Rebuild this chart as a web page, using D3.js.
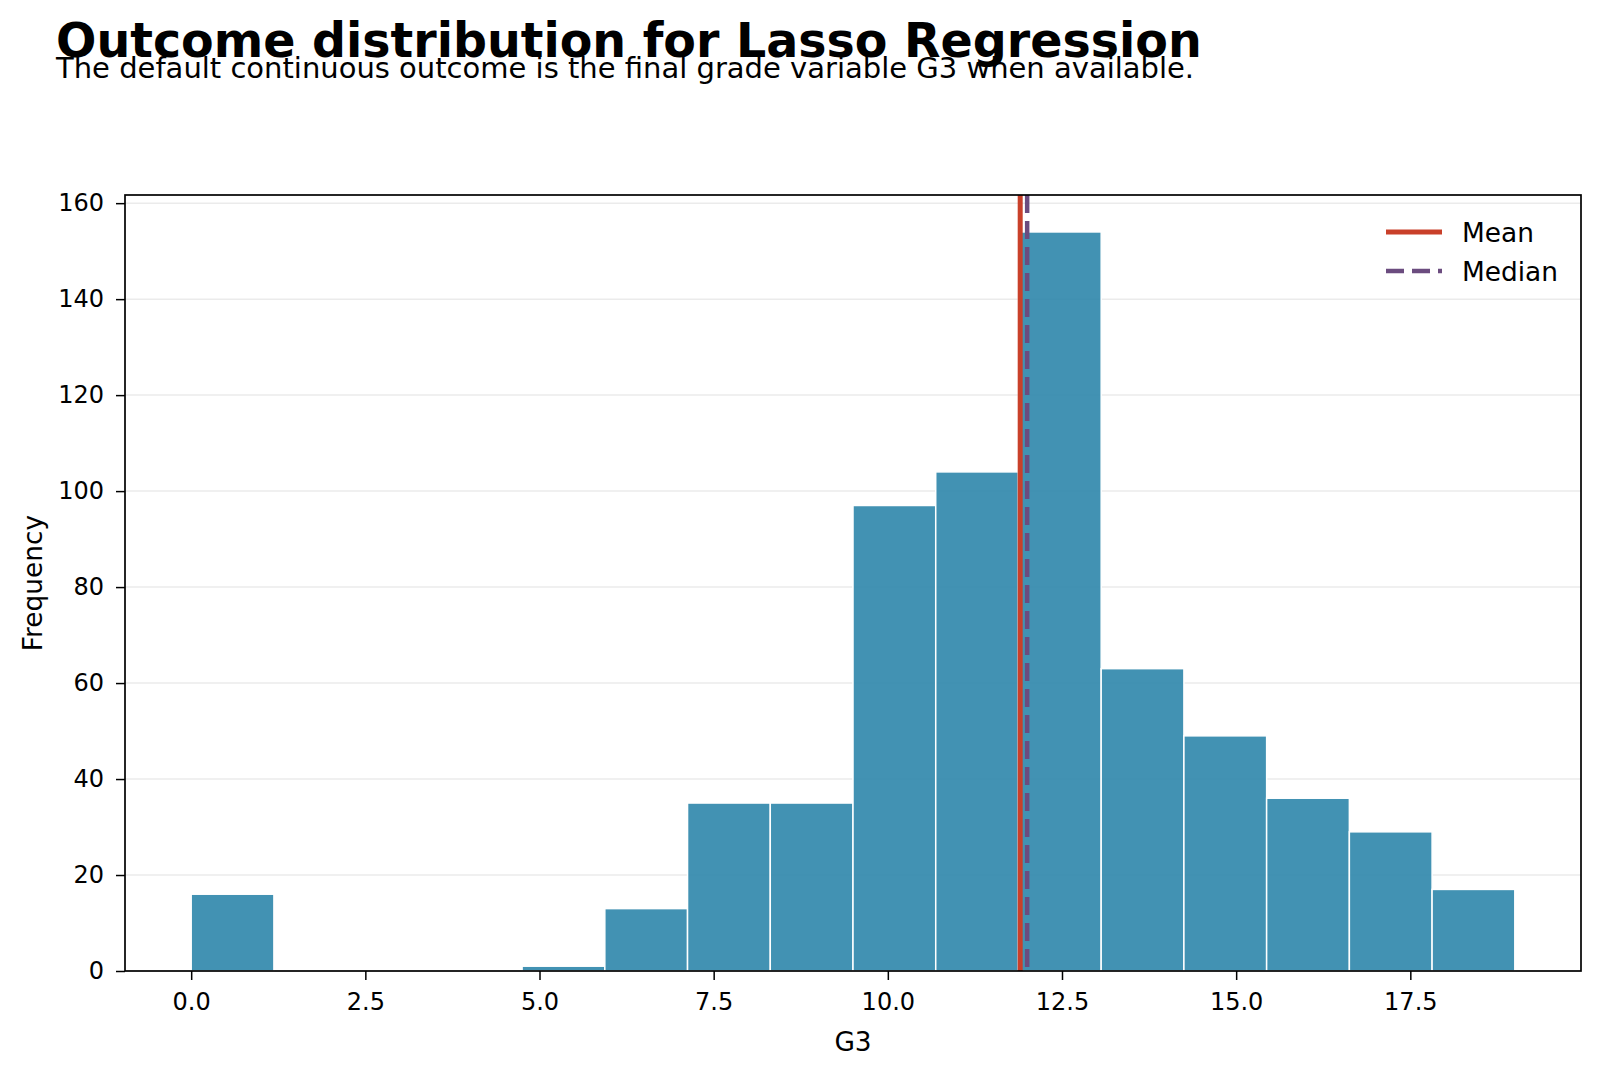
<!DOCTYPE html>
<html>
<head>
<meta charset="utf-8">
<script src="https://cdn.jsdelivr.net/npm/d3@7"></script>
<style>
  body { margin: 0; background: #fff; }
  text { font-family: "DejaVu Sans", sans-serif; fill: #000; }
</style>
</head>
<body>
<script>
var width = 1600;
var height = 1073;

// histogram of G3 (16 bins over 0..19)
var binEdges = [0, 1.1875, 2.375, 3.5625, 4.75, 5.9375, 7.125, 8.3125, 9.5,
    10.6875, 11.875, 13.0625, 14.25, 15.4375, 16.625, 17.8125, 19];
var counts = [16, 0, 0, 0, 1, 13, 35, 35, 97, 104, 154, 63, 49, 36, 29, 17];
var meanValue = 11.9;
var medianValue = 12;
var xTicks = [0, 2.5, 5, 7.5, 10, 12.5, 15, 17.5];
var yTicks = [0, 20, 40, 60, 80, 100, 120, 140, 160];

var bins = counts.map(function(c, i) { return {x0: binEdges[i], x1: binEdges[i + 1], n: c}; });

var margin = {left: 125, right: 19, top: 195, bottom: 102};
var plotW = width - margin.left - margin.right;
var plotH = height - margin.top - margin.bottom;

var svg = d3.select('body')
    .append('svg')
    .attr('width', width)
    .attr('height', height);

var lo = binEdges[0], hi = binEdges[binEdges.length - 1];
var pad = (hi - lo) * 0.05;
var x = d3.scaleLinear().domain([lo - pad, hi + pad]).range([0, plotW]);
var y = d3.scaleLinear().domain([0, d3.max(counts) * 1.05]).range([plotH, 0]);

var g = svg.append('g').attr('transform', 'translate(' + margin.left + ',' + margin.top + ')');

// grid
g.append('g').selectAll('line')
    .data(yTicks)
    .enter().append('line')
    .attr('x1', 0).attr('x2', plotW)
    .attr('y1', d => y(d)).attr('y2', d => y(d))
    .attr('stroke', '#ebebeb')
    .attr('stroke-width', 1.5);

// bars
g.append('g').selectAll('rect')
    .data(bins.filter(d => d.n > 0))
    .enter().append('rect')
    .attr('x', d => x(d.x0))
    .attr('width', d => x(d.x1) - x(d.x0))
    .attr('y', d => y(d.n))
    .attr('height', d => y(0) - y(d.n))
    .attr('fill', '#2e86ab')
    .attr('fill-opacity', 0.9)
    .attr('stroke', '#fff')
    .attr('stroke-width', 1.5);

// mean / median
g.append('line')
    .attr('x1', x(meanValue)).attr('x2', x(meanValue))
    .attr('y1', 0).attr('y2', plotH)
    .attr('stroke', '#c9402a')
    .attr('stroke-width', 5);
g.append('line')
    .attr('x1', x(medianValue)).attr('x2', x(medianValue))
    .attr('y1', 0).attr('y2', plotH)
    .attr('stroke', '#6b4c7f')
    .attr('stroke-width', 4.5)
    .attr('stroke-dasharray', '18,8');

// axes
var xAxis = g.append('g')
    .attr('transform', 'translate(0,' + plotH + ')')
    .call(d3.axisBottom(x).tickValues(xTicks).tickFormat(d3.format('.1f')).tickSize(9).tickPadding(13));
var yAxis = g.append('g')
    .call(d3.axisLeft(y).tickValues(yTicks).tickSize(9).tickPadding(12));
[xAxis, yAxis].forEach(function(a) {
    a.select('.domain').remove();
    a.selectAll('line').attr('stroke', '#000').attr('stroke-width', 1.5);
    a.selectAll('text').style('font-size', '24px').style('font-family', '"DejaVu Sans", sans-serif');
});

// frame
g.append('rect')
    .attr('width', plotW).attr('height', plotH)
    .attr('fill', 'none')
    .attr('stroke', '#000')
    .attr('stroke-width', 1.7);

// axis labels
svg.append('text')
    .attr('x', margin.left + plotW / 2)
    .attr('y', 1051)
    .attr('text-anchor', 'middle')
    .style('font-size', '26.4px')
    .text('G3');
svg.append('text')
    .attr('transform', 'translate(42,' + (margin.top + plotH / 2) + ') rotate(-90)')
    .attr('text-anchor', 'middle')
    .style('font-size', '26.4px')
    .text('Frequency');

// legend
var legend = [{label: 'Mean', color: '#c9402a', dash: null, w: 5},
    {label: 'Median', color: '#6b4c7f', dash: '18,8', w: 4.5}];
var lg = svg.append('g').attr('transform', 'translate(1386,232)');
legend.forEach(function(d, i) {
    lg.append('line')
        .attr('x1', 0).attr('x2', 56)
        .attr('y1', i * 39).attr('y2', i * 39)
        .attr('stroke', d.color)
        .attr('stroke-width', d.w)
        .attr('stroke-dasharray', d.dash);
    lg.append('text')
        .attr('x', 76).attr('y', i * 39 + 9.5)
        .style('font-size', '26.4px')
        .text(d.label);
});

// titles
svg.append('text')
    .attr('x', 56).attr('y', 57)
    .style('font-size', '47.5px')
    .style('font-weight', 'bold')
    .text('Outcome distribution for Lasso Regression');
svg.append('text')
    .attr('x', 56).attr('y', 78)
    .style('font-size', '29px')
    .text('The default continuous outcome is the final grade variable G3 when available.');
</script>
</body>
</html>
